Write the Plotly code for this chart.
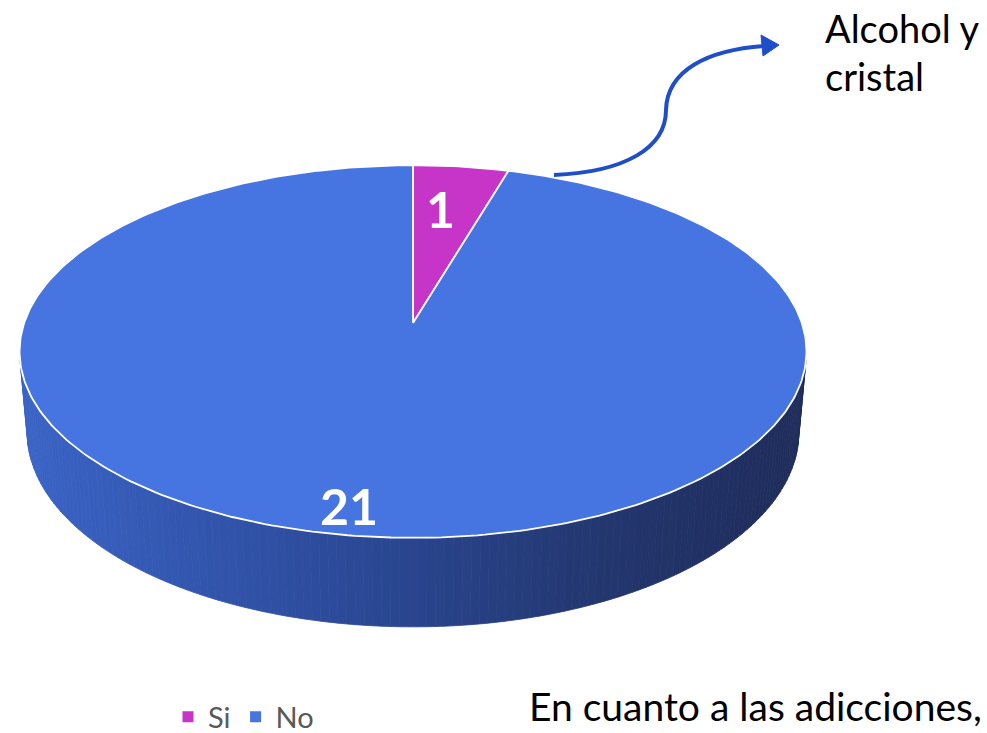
import numpy as np
import plotly.graph_objects as go

# ---- data ----
categories = ["Si", "No"]
values = [1, 21]
slice_colors = ["#C634C8", "#4674E0"]
callout_lines = ["Alcohol y", "cristal"]
footer_text = "En cuanto a las adicciones,"

# ---- style / geometry (perspective 3D pie drawn in pixel space) ----
W, H_PX = 987, 733
APEX_X, APEX_Y = 413.0, 323.0
FOCAL = 2245.0
DIST = 5.774
TILT = np.radians(27.9)
DEPTH = 0.2364
side_stop_x = [30, 340, 610, 790]
side_stop_rgb = [(58, 99, 197), (44, 74, 153), (35, 54, 110), (31, 45, 92)]
label_radius = [0.70, 0.88]


def project(X, Y, h):
    yc = Y * np.sin(TILT) + h * np.cos(TILT)
    zc = DIST + Y * np.cos(TILT) - h * np.sin(TILT)
    return APEX_X + FOCAL * X / zc, APEX_Y - FOCAL * yc / zc


def rim(phi, h=0.0, r=1.0):
    return project(r * np.sin(phi), r * np.cos(phi), h)


def side_color(x):
    rgb = [np.interp(x, side_stop_x, [c[i] for c in side_stop_rgb]) for i in range(3)]
    return "rgb(%d,%d,%d)" % tuple(int(round(v)) for v in rgb)


fig = go.Figure()

# side wall (visible front part), shaded strips
total = float(sum(values))
phi_sil = np.arccos(-1.0 / (DIST * np.cos(TILT)))
phis = np.linspace(phi_sil, 2 * np.pi - phi_sil, 140)
for a, b in zip(phis[:-1], phis[1:]):
    seg = np.linspace(a, b, 3)
    tx, ty = rim(seg, 0.0)
    bx, by = rim(seg[::-1], -DEPTH)
    xs = np.concatenate([tx, bx, tx[:1]])
    ys = np.concatenate([ty, by, ty[:1]])
    col = side_color(float(np.mean(tx)))
    fig.add_trace(go.Scatter(x=xs, y=ys, mode="lines", fill="toself",
                             fillcolor=col, line=dict(color=col, width=0.8),
                             hoverinfo="skip", showlegend=False))

# top slices
start = 0.0
label_pos = []
for i, (cat, val) in enumerate(zip(categories, values)):
    a0 = start / total * 2 * np.pi
    a1 = (start + val) / total * 2 * np.pi
    arc = np.linspace(a0, a1, max(8, int(400 * val / total)))
    ax_, ay_ = rim(arc)
    xs = np.concatenate([[APEX_X], ax_, [APEX_X]])
    ys = np.concatenate([[APEX_Y], ay_, [APEX_Y]])
    fig.add_trace(go.Scatter(x=xs, y=ys, mode="lines", fill="toself",
                             fillcolor=slice_colors[i],
                             line=dict(color="white", width=1.8),
                             hoverinfo="skip", showlegend=False))
    mid = (a0 + a1) / 2
    label_pos.append(rim(np.array([mid]), 0.0, label_radius[i]))
    start += val

for i, val in enumerate(values):
    lx, ly = label_pos[i]
    fig.add_annotation(x=float(lx[0]) - 8, y=float(ly[0]), text="<b>%d</b>" % val,
                       showarrow=False,
                       font=dict(family="Lato", size=50, color="white"))

# legend entries
for cat, col in zip(categories, slice_colors):
    fig.add_trace(go.Scatter(x=[None], y=[None], mode="markers", name=cat,
                             marker=dict(symbol="square", size=11, color=col)))

# callout arrow
fig.add_shape(type="path",
              path="M 554 175 C 625 172, 666 148, 666 110 C 667 70, 708 50, 764 46",
              line=dict(color="#1F4FC8", width=4), layer="above")
fig.add_shape(type="path", path="M 761 35 L 779 45 L 763 56 Z",
              fillcolor="#1F4FC8", line=dict(color="#1F4FC8", width=1), layer="above")

fig.add_annotation(x=823, y=28, text=callout_lines[0], showarrow=False,
                   xanchor="left", yanchor="middle",
                   font=dict(family="Lato", size=38, color="black"))
fig.add_annotation(x=823, y=76, text=callout_lines[1], showarrow=False,
                   xanchor="left", yanchor="middle",
                   font=dict(family="Lato", size=38, color="black"))
fig.add_annotation(x=527, y=706, text=footer_text, showarrow=False,
                   xanchor="left", yanchor="middle",
                   font=dict(family="Lato", size=39, color="black"))

fig.update_layout(
    width=W, height=H_PX,
    margin=dict(l=0, r=0, t=0, b=0, autoexpand=False),
    paper_bgcolor="white", plot_bgcolor="white",
    xaxis=dict(range=[0, W], visible=False, fixedrange=True),
    yaxis=dict(range=[H_PX, 0], visible=False, fixedrange=True),
    showlegend=True,
    legend=dict(orientation="h", x=168 / W, y=1 - 717 / H_PX,
                xanchor="left", yanchor="middle",
                font=dict(family="Lato", size=29, color="#595959"),
                itemwidth=30, bgcolor="rgba(0,0,0,0)"),
)

fig.write_html("out.html", config={"displayModeBar": False},
               post_script="document.body.style.margin='0';document.body.style.overflow='hidden';")
